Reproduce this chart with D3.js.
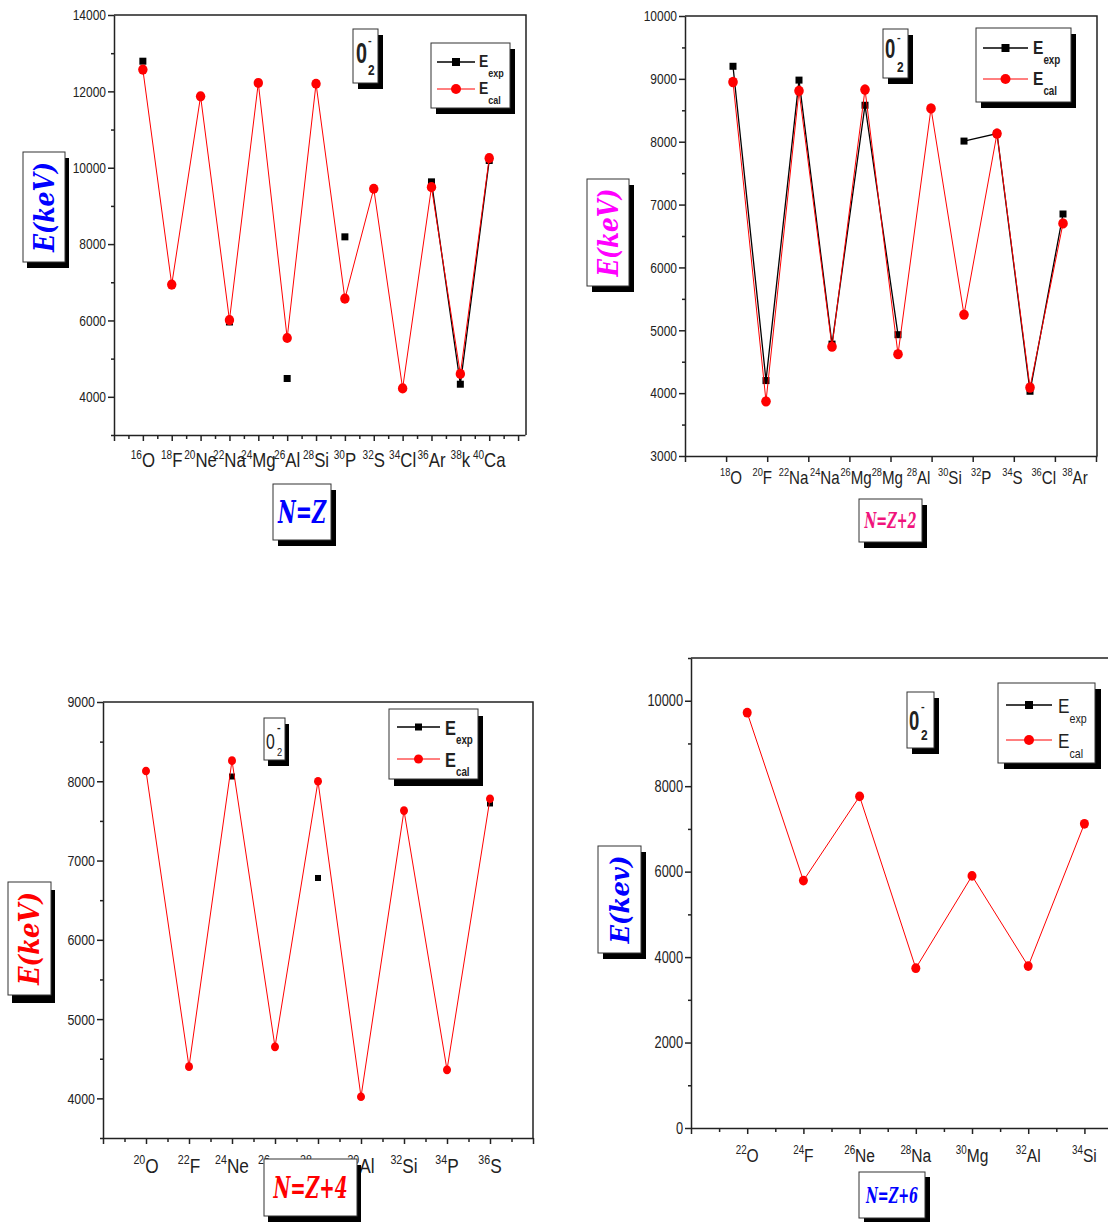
<!DOCTYPE html>
<html>
<head>
<meta charset="utf-8">
<script src="https://cdn.jsdelivr.net/npm/d3@7"></script>
<style>
body { margin: 0; background: #fff; }
svg { display: block; }
.num { font-family: "Liberation Sans", Arial, sans-serif; fill: #222; }
.script { font-family: "DejaVu Serif", "Liberation Serif", serif; font-style: italic; font-weight: bold; }
</style>
</head>
<body>
<svg id="chart" width="1108" height="1222"></svg>
<script>
// ----- data -----

// N = Z
var nucleiNZ = ["16O", "18F", "20Ne", "22Na", "24Mg", "26Al", "28Si", "30P", "32S", "34Cl", "36Ar", "38k", "40Ca"];
var expNZ = [12790, null, null, 5960, null, 4480, null, 8190, null, null, 9630, 4330, 10190];
var calNZ = [12570, 6940, 11870, 6010, 12220, 5540, 12200, 6570, 9450, 4220, 9490, 4600, 10250];

// N = Z + 2
var nucleiNZ2 = ["18O", "20F", "22Na", "24Na", "26Mg", "28Mg", "28Al", "30Si", "32P", "34S", "36Cl", "38Ar"];
var expNZ2 = [9200, 4200, 8980, 4780, 8580, 4930, null, 8010, 8130, 4030, 6850];
var calNZ2 = [8950, 3870, 8810, 4740, 8830, 4620, 8530, 5250, 8130, 4090, 6700];

// N = Z + 4
var nucleiNZ4 = ["20O", "22F", "24Ne", "26Na", "28Mg", "30Al", "32Si", "34P", "36S"];
var expNZ4 = [null, null, 8060, null, 6780, null, null, null, 7720];
var calNZ4 = [8130, 4400, 8260, 4650, 8000, 4020, 7630, 4360, 7780];

// N = Z + 6
var nucleiNZ6 = ["22O", "24F", "26Ne", "28Na", "30Mg", "32Al", "34Si"];
var expNZ6 = [null, null, null, null, null, null, null];
var calNZ6 = [9720, 5790, 7760, 3740, 5900, 3790, 7120];

var svg = d3.select("#chart");

function shadowBox(g, x, y, w, h, dx, dy) {
    g.append("rect").attr("x", x + dx).attr("y", y + dy).attr("width", w).attr("height", h).attr("fill", "#000");
    g.append("rect").attr("x", x).attr("y", y).attr("width", w).attr("height", h)
        .attr("fill", "#fff").attr("stroke", "#333").attr("stroke-width", 1);
}

// narrow text: the original uses a condensed face, so squeeze horizontally
function ntext(g, x, y, sx) {
    return g.append("g").attr("transform", "translate(" + x + "," + y + ") scale(" + sx + ",1)")
        .append("text").attr("class", "num");
}

function drawPanel(o) {
    var g = svg.append("g");
    var x = d3.scaleLinear().domain(o.xDom).range([o.x0, o.x1]);
    var y = d3.scaleLinear().domain(o.yDom).range([o.y1, o.y0]);

    // top + right frame
    g.append("path")
        .attr("d", "M" + o.x0 + "," + o.y0 + "H" + o.frameR + "V" + o.y1)
        .attr("fill", "none").attr("stroke", "#222").attr("stroke-width", 1.5);

    // y axis
    var ya = g.append("g").attr("transform", "translate(" + o.x0 + ",0)")
        .call(d3.axisLeft(y).tickValues(o.yMajor).tickSize(6).tickSizeOuter(0).tickFormat(d3.format("d")));
    ya.selectAll("text").attr("class", "num").style("font-size", o.yFs + "px")
        .attr("x", -8 / 0.8).attr("transform", "scale(0.8,1)");
    g.append("g").attr("transform", "translate(" + o.x0 + ",0)")
        .call(d3.axisLeft(y).tickValues(o.yMinor).tickSize(3).tickFormat(""))
        .select(".domain").remove();

    // x axis
    var xMajor = o.xTicksPx ? o.xTicksPx.map(x.invert) : o.xMajor;
    g.append("g").attr("transform", "translate(0," + o.y1 + ")")
        .call(d3.axisBottom(x).tickValues(xMajor).tickSize(6).tickSizeOuter(0).tickFormat(""));
    if (o.xMinor) {
        g.append("g").attr("transform", "translate(0," + o.y1 + ")")
            .call(d3.axisBottom(x).tickValues(o.xMinor).tickSize(4).tickFormat(""))
            .select(".domain").remove();
    }
    g.selectAll(".domain, .tick line").attr("stroke", "#222").attr("stroke-width", 1.5);

    // nucleus labels
    var lx = o.labelRange ? d3.scaleLinear().domain([0, o.labels.length - 1]).range(o.labelRange) : x;
    o.labels.forEach(function (s, i) {
        var m = s.match(/^(\d+)(.*)$/);
        var t = ntext(g, lx(i), o.labelY, o.xSx).attr("text-anchor", "middle").style("font-size", o.xFs + "px");
        t.append("tspan").text(m[1]).style("font-size", o.supFs + "px").attr("dy", -o.xFs * 0.42);
        t.append("tspan").text(m[2]).attr("dy", o.xFs * 0.42);
    });

    // series
    var expPts = o.exp.map(function (v, i) { return [i, v]; });
    var calPts = o.cal.map(function (v, i) { return [i, v]; });
    var line = d3.line().defined(function (d) { return d[1] != null; })
        .x(function (d) { return x(d[0]); }).y(function (d) { return y(d[1]); });

    g.append("path").datum(expPts).attr("d", line).attr("fill", "none").attr("stroke", "#000").attr("stroke-width", 1.3);
    g.selectAll(".sq").data(expPts.filter(function (d) { return d[1] != null; })).enter().append("rect")
        .attr("x", function (d) { return x(d[0]) - o.sq / 2; })
        .attr("y", function (d) { return y(d[1]) - o.sq / 2; })
        .attr("width", o.sq).attr("height", o.sq).attr("fill", "#000");

    g.append("path").datum(calPts).attr("d", line).attr("fill", "none").attr("stroke", "#f00").attr("stroke-width", 1);
    g.selectAll(".dot").data(calPts).enter().append("ellipse")
        .attr("cx", function (d) { return x(d[0]); })
        .attr("cy", function (d) { return y(d[1]); })
        .attr("rx", o.r).attr("ry", o.r * 1.08).attr("fill", "#f00");

    // 0-2 box
    var z = o.zero;
    shadowBox(g, z.x, z.y, z.w, z.h, z.dx, z.dy);
    var zw = z.bold ? "bold" : "normal";
    ntext(g, z.tx, z.ty, z.sx).text("0")
        .style("font-size", z.fs + "px").style("font-weight", zw).attr("fill", "#000");
    ntext(g, z.mx, z.my, 1).text("-")
        .style("font-size", "11px").style("font-weight", "bold").attr("fill", "#000");
    ntext(g, z.mx, z.sy, 0.85).text("2")
        .style("font-size", z.sfs + "px").style("font-weight", zw).attr("fill", "#000");

    // legend
    var L = o.leg;
    shadowBox(g, L.x, L.y, L.w, L.h, L.dx, L.dy);
    var lw = L.bold ? "bold" : "normal";
    [["exp", L.r1, "#000", 1.3], ["cal", L.r2, "#f00", 1]].forEach(function (row, k) {
        g.append("line").attr("x1", L.l0).attr("x2", L.l1).attr("y1", row[1]).attr("y2", row[1])
            .attr("stroke", row[2]).attr("stroke-width", row[3]);
        var mx = (L.l0 + L.l1) / 2;
        if (k === 0) {
            g.append("rect").attr("x", mx - L.sq / 2).attr("y", row[1] - L.sq / 2)
                .attr("width", L.sq).attr("height", L.sq).attr("fill", "#000");
        } else {
            g.append("circle").attr("cx", mx).attr("cy", row[1]).attr("r", L.cr).attr("fill", "#f00");
        }
        var t = ntext(g, L.ex, row[1] + L.eb, 0.82)
            .style("font-size", L.efs + "px").style("font-weight", lw).attr("fill", "#000");
        t.append("tspan").text("E");
        t.append("tspan").text(row[0]).style("font-size", L.sfs + "px").attr("dy", L.sdy);
    });

    // axis titles in shadowed boxes
    var Y = o.ytitle;
    shadowBox(g, Y.x, Y.y, Y.w, Y.h, Y.dx, Y.dy);
    g.append("text").attr("class", "script")
        .attr("transform", "translate(" + (Y.x + Y.w / 2) + "," + (Y.y + Y.h / 2) + ") rotate(-90)")
        .attr("text-anchor", "middle").attr("dy", "0.35em")
        .attr("textLength", Y.tl).attr("lengthAdjust", "spacingAndGlyphs")
        .style("font-size", Y.fs + "px").attr("fill", Y.color).text(Y.text);

    var X = o.xtitle;
    shadowBox(g, X.x, X.y, X.w, X.h, X.dx, X.dy);
    g.append("text").attr("class", "script")
        .attr("x", X.x + X.w / 2).attr("y", X.y + X.h / 2).attr("dy", "0.35em")
        .attr("text-anchor", "middle")
        .attr("textLength", X.tl).attr("lengthAdjust", "spacingAndGlyphs")
        .style("font-size", X.fs + "px").attr("fill", X.color).text(X.text);
}

// ----- panel 1 : N=Z -----
drawPanel({
    x0: 114, x1: 525, frameR: 526, y0: 15, y1: 435,
    xDom: [-1, 13.24], yDom: [3000, 14000],
    yMajor: d3.range(4000, 14001, 2000), yMinor: d3.range(3000, 14000, 2000), yFs: 15,
    xMajor: d3.range(-1, 14, 1), xMinor: d3.range(-0.5, 13, 1),
    labels: nucleiNZ, labelY: 467, xFs: 20, supFs: 12, xSx: 0.84,
    exp: expNZ, cal: calNZ, sq: 7, r: 4.7,
    zero: { x: 353, y: 29, w: 25, h: 54, dx: 5, dy: 6, bold: true, tx: 356, ty: 63, fs: 30, sx: 0.66, mx: 368, my: 44, sy: 75, sfs: 14 },
    leg: { x: 431, y: 43, w: 79, h: 65, dx: 5, dy: 6, bold: true, l0: 437, l1: 475, r1: 62, r2: 89,
           sq: 8, cr: 5, ex: 479, eb: 5, efs: 17, sfs: 11, sdy: 10 },
    ytitle: { x: 23, y: 152, w: 42, h: 110, dx: 4, dy: 6, fs: 28, tl: 90, color: "#0000ff", text: "E(keV)" },
    xtitle: { x: 273, y: 484, w: 58, h: 56, dx: 5, dy: 6, fs: 32, tl: 48, color: "#0000ff", text: "N=Z" }
});

// ----- panel 2 : N=Z+2 -----
drawPanel({
    x0: 685, x1: 1097, frameR: 1097, y0: 16, y1: 456,
    xDom: [-1.4545, 11.03], yDom: [3000, 10000],
    yMajor: d3.range(3000, 10001, 1000), yMinor: d3.range(3500, 10000, 1000), yFs: 15,
    xTicksPx: d3.range(0, 11).map(function (k) { return 685 + 41.1 * k; }),
    labels: nucleiNZ2, labelRange: [731, 1075], labelY: 484, xFs: 18, supFs: 11, xSx: 0.84,
    exp: expNZ2, cal: calNZ2, sq: 7, r: 4.8,
    zero: { x: 883, y: 29, w: 25, h: 49, dx: 5, dy: 6, bold: true, tx: 885, ty: 58, fs: 28, sx: 0.66, mx: 897, my: 41, sy: 72, sfs: 14 },
    leg: { x: 976, y: 28, w: 95, h: 74, dx: 5, dy: 6, bold: true, l0: 983, l1: 1028, r1: 48, r2: 79,
           sq: 8, cr: 5, ex: 1033, eb: 6, efs: 19, sfs: 12, sdy: 10 },
    ytitle: { x: 587, y: 179, w: 42, h: 107, dx: 5, dy: 6, fs: 28, tl: 88, color: "#ff00ff", text: "E(keV)" },
    xtitle: { x: 859, y: 499, w: 63, h: 43, dx: 5, dy: 6, fs: 22, tl: 52, color: "#f0147c", text: "N=Z+2" }
});

// ----- panel 3 : N=Z+4 -----
drawPanel({
    x0: 103, x1: 533, frameR: 533, y0: 702, y1: 1138,
    xDom: [-1, 9], yDom: [3500, 9000],
    yMajor: d3.range(4000, 9001, 1000), yMinor: d3.range(3500, 9000, 1000), yFs: 15.5,
    xMajor: d3.range(-1, 10, 1), xMinor: d3.range(-0.5, 9, 1),
    labels: nucleiNZ4, labelY: 1173, xFs: 21, supFs: 13, xSx: 0.82,
    exp: expNZ4, cal: calNZ4, sq: 6, r: 4,
    zero: { x: 264, y: 718, w: 21, h: 42, dx: 4, dy: 6, bold: false, tx: 266, ty: 749, fs: 22, sx: 0.72, mx: 277, my: 731, sy: 756, sfs: 11 },
    leg: { x: 389, y: 709, w: 89, h: 70, dx: 5, dy: 7, bold: true, l0: 397, l1: 440, r1: 727, r2: 759,
           sq: 7, cr: 4.5, ex: 445, eb: 8, efs: 20, sfs: 12, sdy: 9 },
    ytitle: { x: 8, y: 882, w: 43, h: 113, dx: 4, dy: 8, fs: 28, tl: 93, color: "#ff0000", text: "E(keV)" },
    xtitle: { x: 264, y: 1159, w: 93, h: 57, dx: 4, dy: 6, fs: 30, tl: 74, color: "#ff0000", text: "N=Z+4" }
});

// ----- panel 4 : N=Z+6 -----
drawPanel({
    x0: 691, x1: 1135, frameR: 1140, y0: 658, y1: 1128,
    xDom: [-1, 6.9], yDom: [0, 11000],
    yMajor: d3.range(0, 10001, 2000), yMinor: d3.range(1000, 11001, 2000), yFs: 16,
    xMajor: d3.range(-1, 7, 1), xMinor: d3.range(-0.5, 7, 1),
    labels: nucleiNZ6, labelY: 1162, xFs: 19, supFs: 12, xSx: 0.82,
    exp: expNZ6, cal: calNZ6, sq: 7, r: 4.5,
    zero: { x: 907, y: 692, w: 27, h: 56, dx: 5, dy: 6, bold: true, tx: 909, ty: 730, fs: 28, sx: 0.66, mx: 921, my: 710, sy: 740, sfs: 14 },
    leg: { x: 998, y: 683, w: 97, h: 80, dx: 6, dy: 6, bold: false, l0: 1006, l1: 1052, r1: 705, r2: 740,
           sq: 8, cr: 5, ex: 1058, eb: 8, efs: 21, sfs: 13, sdy: 10 },
    ytitle: { x: 598, y: 846, w: 43, h: 107, dx: 5, dy: 6, fs: 26, tl: 88, color: "#0000ff", text: "E(kev)" },
    xtitle: { x: 859, y: 1172, w: 66, h: 46, dx: 5, dy: 5, fs: 22, tl: 52, color: "#0000ff", text: "N=Z+6" }
});
</script>
</body>
</html>
